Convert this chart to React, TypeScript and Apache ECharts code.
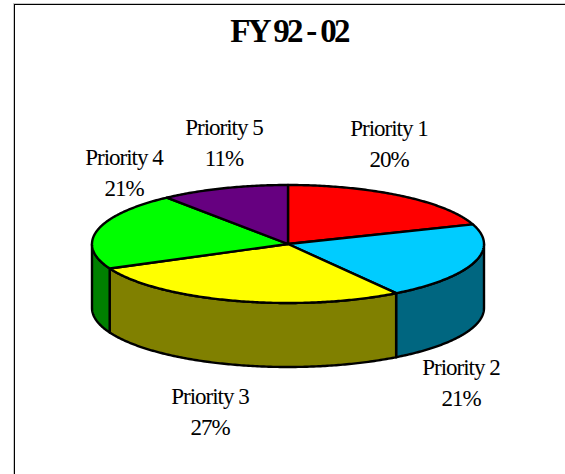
import React, { useEffect, useRef } from "react";
import * as echarts from "echarts";

const titleText = "FY 92 - 02";
const categories = ["Priority 1", "Priority 2", "Priority 3", "Priority 4", "Priority 5"];
const shares = [19.6, 21.1, 27.49, 21.2, 10.61];
const topColors = ["#ff0000", "#00ccff", "#ffff00", "#00ff00", "#660080"];
const sideColors = ["#800000", "#006680", "#808000", "#008000", "#330040"];

// Pie projection and label anchors (layout only)
const CX = 288, CY = 244, RX = 196, RY = 59, DEPTH = 64;
const labelAnchors: [number, number][] = [[389, 144], [461, 383], [210, 412], [124, 173], [224, 143]];

const total = shares.reduce((a, b) => a + b, 0);
const pt = (deg: number, dy = 0): number[] => {
  const r = (deg * Math.PI) / 180;
  return [CX + RX * Math.sin(r), CY - RY * Math.cos(r) + dy];
};
const arc = (a: number, b: number, dy = 0): number[][] => {
  const n = Math.max(2, Math.ceil(Math.abs(b - a) * 1.5));
  const out: number[][] = [];
  for (let i = 0; i <= n; i++) out.push(pt(a + ((b - a) * i) / n, dy));
  return out;
};

export default function App() {
  const ref = useRef<HTMLDivElement>(null);
  useEffect(() => {
    const chart = echarts.init(ref.current!, undefined, { renderer: "svg" });
    const starts: number[] = [];
    let acc = 0;
    shares.forEach((v) => { starts.push((acc / total) * 360); acc += v; });

    chart.setOption({
      animation: false,
      backgroundColor: "#ffffff",
      title: {
        text: titleText, left: 284, top: 9, textAlign: "center",
        textStyle: { fontFamily: "Liberation Serif", fontSize: 33, fontWeight: "bold", color: "#000" },
      },
      graphic: [
        { type: "line", silent: true, shape: { x1: 13, y1: 3.5, x2: 565, y2: 3.5 }, style: { stroke: "#c8c8c8", lineWidth: 1 } },
        { type: "line", silent: true, shape: { x1: 13.5, y1: 3, x2: 13.5, y2: 474 }, style: { stroke: "#c8c8c8", lineWidth: 1 } },
        { type: "line", silent: true, shape: { x1: 14, y1: 4.5, x2: 565, y2: 4.5 }, style: { stroke: "#000", lineWidth: 1 } },
        { type: "line", silent: true, shape: { x1: 14.5, y1: 4, x2: 14.5, y2: 474 }, style: { stroke: "#000", lineWidth: 1 } },
      ],
      series: [{
        type: "custom",
        coordinateSystem: "none",
        silent: true,
        data: shares.map((v, i) => ({ name: categories[i], value: v })),
        renderItem: (params: any, api: any) => {
          const i = params.dataIndex;
          const a = starts[i];
          const b = a + (api.value(0) / total) * 360;
          const sideA = Math.max(a, 90), sideB = Math.min(b, 270);
          const children: any[] = [];
          if (sideB > sideA) {
            const upper = arc(sideA, sideB);
            const lower = arc(sideB, sideA, DEPTH);
            children.push({
              type: "polygon", z2: 1,
              shape: { points: [...upper, ...lower] },
              style: { fill: sideColors[i], stroke: "#000", lineWidth: 2.4, lineJoin: "round" },
            });
          }
          children.push({
            type: "polygon", z2: 2,
            shape: { points: [[CX, CY], ...arc(a, b)] },
            style: { fill: topColors[i], stroke: "#000", lineWidth: 2.4, lineJoin: "round" },
          });
          const [lx, ly] = labelAnchors[i];
          children.push({
            type: "text", z2: 3,
            style: {
              x: lx, y: ly, text: `${categories[i]}\n${Math.round(api.value(0))}%`,
              fill: "#000", align: "center", verticalAlign: "middle",
              fontFamily: "Liberation Serif", fontSize: 23, lineHeight: 31,
            },
          });
          return { type: "group", children };
        },
      }],
    });
    // Tighten the tracking of the texts the way the original's renderer set them.
    chart.getDom().querySelectorAll("text").forEach((t: any) => {
      t.style.letterSpacing = t.textContent === titleText ? "-2.7px" : "-1px";
    });
    return () => chart.dispose();
  }, []);
  return <div ref={ref} style={{ position: "fixed", left: 0, top: 0, width: 565, height: 474 }} />;
}
